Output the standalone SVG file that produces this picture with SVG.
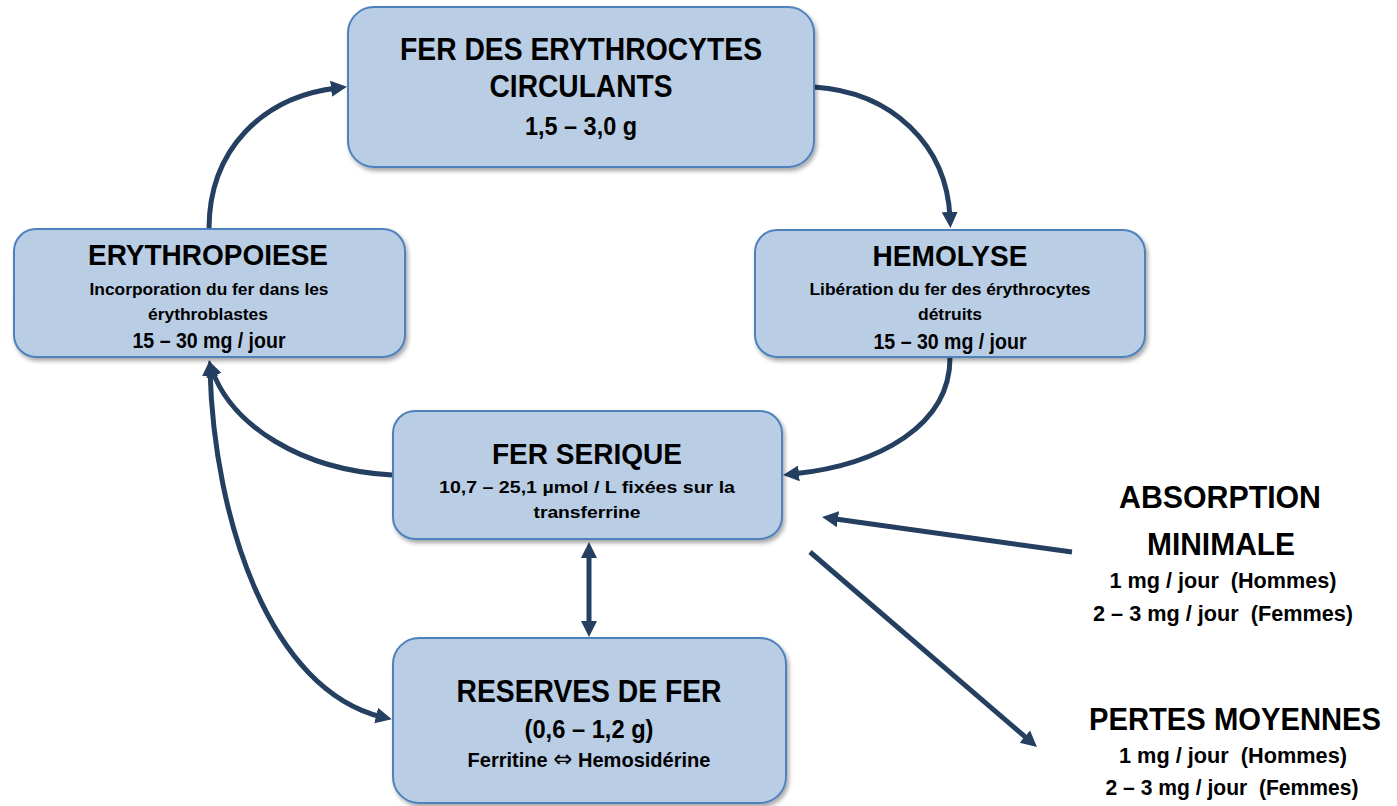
<svg xmlns="http://www.w3.org/2000/svg" width="1397" height="806" viewBox="0 0 1397 806">
<style>
  .box { fill: #B9CDE5; stroke: #4F81BD; stroke-width: 2; filter: url(#sh); }
  text { font-family: "Liberation Sans", Arial, sans-serif; font-weight: bold; fill: #000; text-anchor: middle; }
  .h1 { font-size: 32px; }
  .h2 { font-size: 29px; }
  .v1 { font-size: 26px; }
  .s1 { font-size: 17px; }
  .s2 { font-size: 22px; }
  .s3 { font-size: 21px; }
  .r1 { font-size: 22px; }
  .sym { font-family: "DejaVu Sans", sans-serif; font-weight: normal; font-size: 24px; }
  .conn { fill: none; stroke: #243F60; stroke-width: 5; marker-end: url(#ah); }
  .both { marker-start: url(#ah); }
</style>
<defs>
  <filter id="sh" x="-10%" y="-10%" width="120%" height="130%">
    <feDropShadow dx="2" dy="3" stdDeviation="2" flood-color="#000" flood-opacity="0.35"/>
  </filter>
  <marker id="ah" markerUnits="userSpaceOnUse" markerWidth="18" markerHeight="18" refX="6" refY="9" orient="auto-start-reverse">
    <path d="M0,1 L16,9 L0,17 Z" fill="#243F60"/>
  </marker>
</defs>
<rect width="1397" height="806" fill="#fff"/>

<g id="connectors">
  <path class="conn" d="M209,229 C209,150 262,97 337,88"/>
  <path class="conn" d="M814,87 C892,92 947,145 950,218"/>
  <path class="conn" d="M950,358 C950,425 880,465 793,474"/>
  <path class="conn" d="M392,475 C300,470 232,425 212,370"/>
  <path class="conn both" d="M210,370 C214,520 270,690 382,717"/>
  <path class="conn both" d="M589,552 L589,627"/>
  <path class="conn" d="M1072,552 L832,518.4"/>
  <path class="conn" d="M810,552 L1029.4,740.5"/>
</g>

<g id="node-erythrocytes">
  <rect class="box" x="348" y="7" width="466" height="160" rx="26"/>
  <text class="h1" x="581" y="60" textLength="362" lengthAdjust="spacingAndGlyphs">FER DES ERYTHROCYTES</text>
  <text class="h1" x="581" y="97" textLength="183" lengthAdjust="spacingAndGlyphs">CIRCULANTS</text>
  <text class="v1" x="581" y="135" textLength="112" lengthAdjust="spacingAndGlyphs">1,5 – 3,0 g</text>
</g>

<g id="node-erythropoiese">
  <rect class="box" x="14" y="229" width="391" height="128" rx="22"/>
  <text class="h2" x="208" y="265" textLength="240" lengthAdjust="spacingAndGlyphs">ERYTHROPOIESE</text>
  <text class="s1" x="209" y="295" textLength="239" lengthAdjust="spacingAndGlyphs">Incorporation du fer dans les</text>
  <text class="s1" x="208" y="320" textLength="120" lengthAdjust="spacingAndGlyphs">érythroblastes</text>
  <text class="s2" x="209" y="348" textLength="153" lengthAdjust="spacingAndGlyphs">15 – 30 mg / jour</text>
</g>

<g id="node-hemolyse">
  <rect class="box" x="755" y="230" width="390" height="127" rx="22"/>
  <text class="h2" x="950" y="266" textLength="155" lengthAdjust="spacingAndGlyphs">HEMOLYSE</text>
  <text class="s1" x="950" y="295" textLength="281" lengthAdjust="spacingAndGlyphs">Libération du fer des érythrocytes</text>
  <text class="s1" x="950" y="320" textLength="64" lengthAdjust="spacingAndGlyphs">détruits</text>
  <text class="s2" x="950" y="349" textLength="153" lengthAdjust="spacingAndGlyphs">15 – 30 mg / jour</text>
</g>

<g id="node-fer-serique">
  <rect class="box" x="393" y="411" width="389" height="128" rx="22"/>
  <text class="h2" x="587" y="464" textLength="190" lengthAdjust="spacingAndGlyphs">FER SERIQUE</text>
  <text class="s1" x="587" y="493" textLength="296" lengthAdjust="spacingAndGlyphs">10,7 – 25,1 µmol / L fixées sur la</text>
  <text class="s1" x="587" y="518" textLength="107" lengthAdjust="spacingAndGlyphs">transferrine</text>
</g>

<g id="node-reserves">
  <rect class="box" x="393" y="638" width="393" height="165" rx="26"/>
  <text class="h1" x="589" y="702" textLength="265" lengthAdjust="spacingAndGlyphs">RESERVES DE FER</text>
  <text class="v1" x="589" y="738" textLength="129" lengthAdjust="spacingAndGlyphs">(0,6 – 1,2 g)</text>
  <text class="s3" x="589" y="767" textLength="243" lengthAdjust="spacingAndGlyphs">Ferritine <tspan class="sym">⇔</tspan> Hemosidérine</text>
</g>

<g id="label-absorption">
  <text class="h1" x="1220" y="508" textLength="202" lengthAdjust="spacingAndGlyphs">ABSORPTION</text>
  <text class="h1" x="1221" y="555" textLength="148" lengthAdjust="spacingAndGlyphs">MINIMALE</text>
  <text class="r1" x="1223" y="588" xml:space="preserve" textLength="227" lengthAdjust="spacingAndGlyphs">1 mg / jour  (Hommes)</text>
  <text class="r1" x="1223" y="621" xml:space="preserve" textLength="260" lengthAdjust="spacingAndGlyphs">2 – 3 mg / jour  (Femmes)</text>
</g>

<g id="label-pertes">
  <text class="h1" x="1235" y="730" textLength="292" lengthAdjust="spacingAndGlyphs">PERTES MOYENNES</text>
  <text class="r1" x="1233" y="763" xml:space="preserve" textLength="228" lengthAdjust="spacingAndGlyphs">1 mg / jour  (Hommes)</text>
  <text class="r1" x="1232" y="795" xml:space="preserve" textLength="253" lengthAdjust="spacingAndGlyphs">2 – 3 mg / jour  (Femmes)</text>
</g>
</svg>
